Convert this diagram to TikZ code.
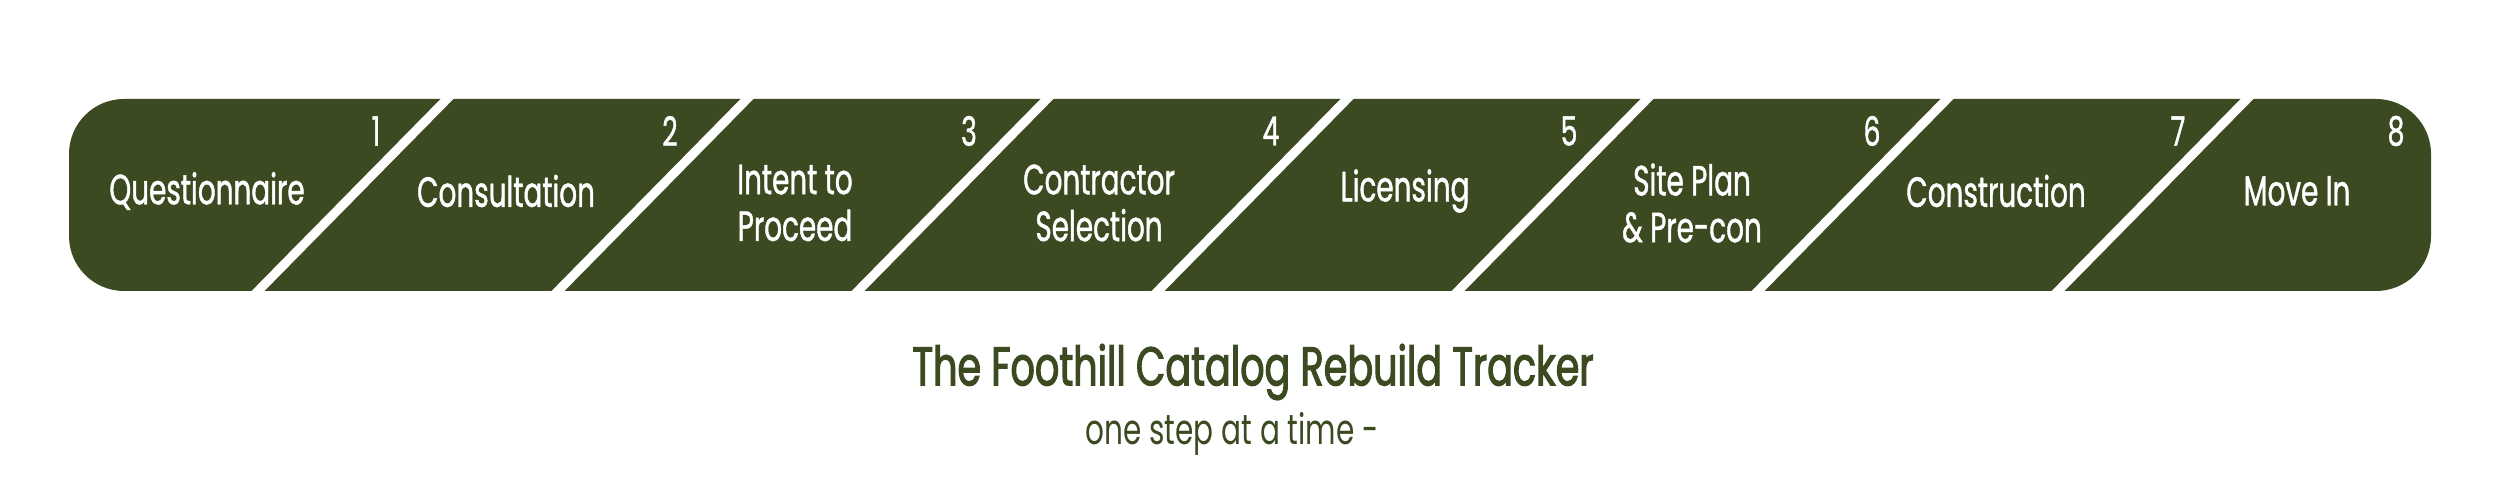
\documentclass[tikz,border=0pt]{standalone}
\usepackage{fontspec}
\setmainfont{Poppins}[FakeStretch=0.70]
\newfontfamily\labelfont{Poppins}[FakeStretch=0.66,FakeBold=1]
\newfontfamily\titlefont{Poppins}[FakeStretch=0.70,FakeBold=2]
\usepackage{xcolor}
\definecolor{trackgreen}{HTML}{3C4A21}

\begin{document}
\begin{tikzpicture}[x=1cm,y=1cm,
  step label/.style={text=white,align=center,font=\labelfont\fontsize{12}{13.3}\selectfont},
  step num/.style={text=white,font=\labelfont\fontsize{11.5}{12}\selectfont},
  gap line/.style={draw=white,line width=2.6pt,shorten <=-1mm,shorten >=-1mm},
  title text/.style={text=trackgreen,font=\titlefont\fontsize{15.5}{17}\selectfont},
  sub text/.style={text=trackgreen,font=\fontsize{12}{13}\selectfont}]
  \useasboundingbox (0,0) rectangle (25,5);

  % the bar
  \fill[trackgreen,rounded corners=0.55cm] (0.69,2.09) rectangle (24.31,4.01);

  % white cuts between the steps
  \draw[gap line] (2.58,2.09) -- (4.47,4.01);
  \draw[gap line] (5.58,2.09) -- (7.47,4.01);
  \draw[gap line] (8.58,2.09) -- (10.47,4.01);
  \draw[gap line] (11.58,2.09) -- (13.47,4.01);
  \draw[gap line] (14.58,2.09) -- (16.47,4.01);
  \draw[gap line] (17.58,2.09) -- (19.47,4.01);
  \draw[gap line] (20.58,2.09) -- (22.47,4.01);

  % step names
  \node[step label] (1) at (2.07,3.09) {Questionnaire};
  \node[step label] (2) at (5.06,3.09) {Consultation};
  \node[step label] (3) at (7.95,2.97) {Intent to\\Proceed};
  \node[step label] (4) at (10.99,2.97) {Contractor\\Selection};
  \node[step label] (5) at (14.05,3.09) {Licensing};
  \node[step label] (6) at (16.92,2.97) {Site Plan\\\& Pre-con};
  \node[step label] (7) at (19.96,3.09) {Construction};
  \node[step label] (8) at (22.97,3.09) {Move In};

  % step numbers
  \node[step num] (n1) at (3.76,3.69) {1};
  \node[step num] (n2) at (6.70,3.69) {2};
  \node[step num] (n3) at (9.69,3.69) {3};
  \node[step num] (n4) at (12.71,3.69) {4};
  \node[step num] (n5) at (15.69,3.69) {5};
  \node[step num] (n6) at (18.72,3.69) {6};
  \node[step num] (n7) at (21.78,3.69) {7};
  \node[step num] (n8) at (23.96,3.69) {8};

  % caption
  \node[title text] (title) at (12.53,1.28) {The Foothill Catalog Rebuild Tracker};
  \node[sub text] (sub) at (12.32,0.66) {one step at a time -};
\end{tikzpicture}
\end{document}
